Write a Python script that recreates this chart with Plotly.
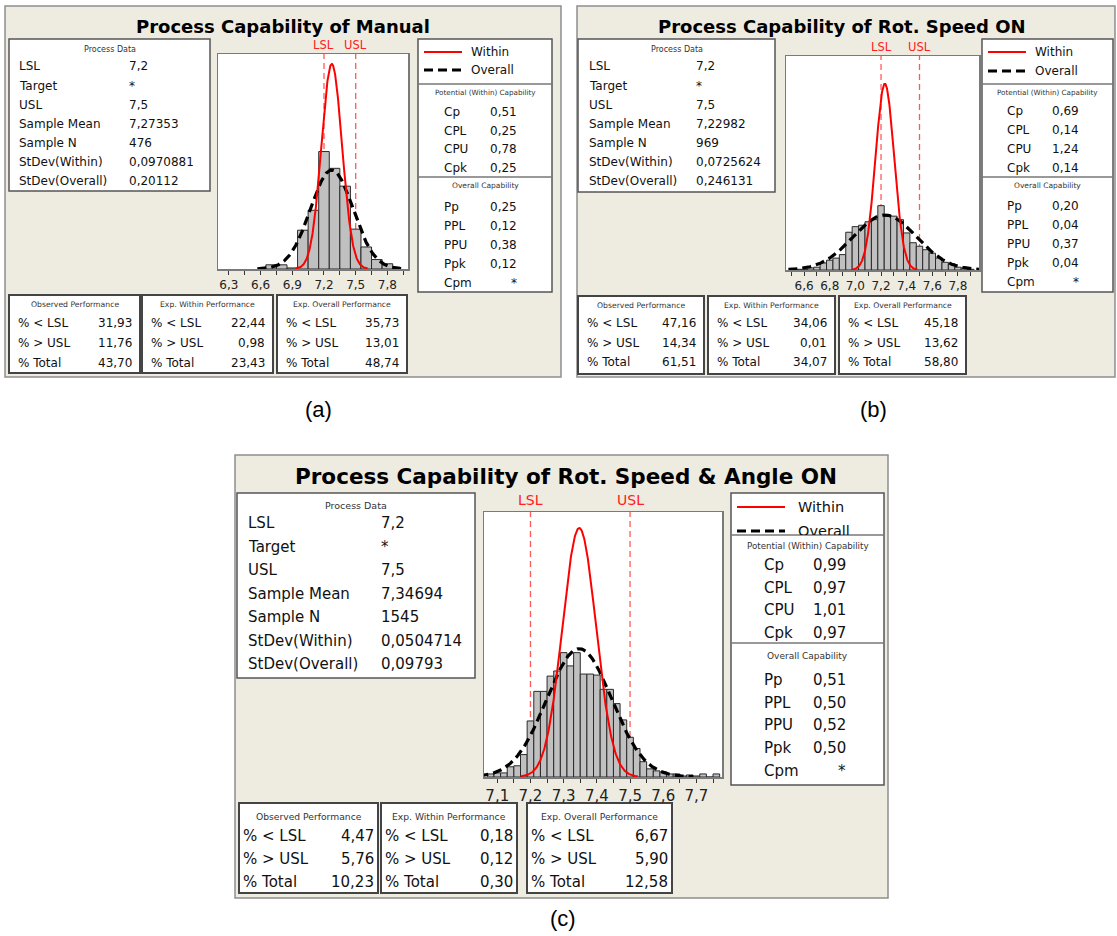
import numpy as np
import plotly.graph_objects as go

W, H = 1117, 936
FONT = "DejaVu Sans"

# ---------------- data ----------------
titles = ["Process Capability of Manual",
          "Process Capability of Rot. Speed ON",
          "Process Capability of Rot. Speed & Angle ON"]
captions = ["(a)", "(b)", "(c)"]

pd_labels = ["LSL", "Target", "USL", "Sample Mean", "Sample N", "StDev(Within)", "StDev(Overall)"]
pd_values_a = ["7,2", "*", "7,5", "7,27353", "476", "0,0970881", "0,20112"]
pd_values_b = ["7,2", "*", "7,5", "7,22982", "969", "0,0725624", "0,246131"]
pd_values_c = ["7,2", "*", "7,5", "7,34694", "1545", "0,0504714", "0,09793"]

within_labels = ["Cp", "CPL", "CPU", "Cpk"]
within_a = ["0,51", "0,25", "0,78", "0,25"]
within_b = ["0,69", "0,14", "1,24", "0,14"]
within_c = ["0,99", "0,97", "1,01", "0,97"]

overall_labels = ["Pp", "PPL", "PPU", "Ppk", "Cpm"]
overall_a = ["0,25", "0,12", "0,38", "0,12", "*"]
overall_b = ["0,20", "0,04", "0,37", "0,04", "*"]
overall_c = ["0,51", "0,50", "0,52", "0,50", "*"]

perf_titles = ["Observed Performance", "Exp. Within Performance", "Exp. Overall Performance"]
perf_labels = ["% < LSL", "% > USL", "% Total"]
obs_a, expw_a, expo_a = ["31,93", "11,76", "43,70"], ["22,44", "0,98", "23,43"], ["35,73", "13,01", "48,74"]
obs_b, expw_b, expo_b = ["47,16", "14,34", "61,51"], ["34,06", "0,01", "34,07"], ["45,18", "13,62", "58,80"]
obs_c, expw_c, expo_c = ["4,47", "5,76", "10,23"], ["0,18", "0,12", "0,30"], ["6,67", "5,90", "12,58"]

lsl, usl = 7.2, 7.5
mean_a, n_a, sdw_a, sdo_a = 7.27353, 476, 0.0970881, 0.20112
mean_b, n_b, sdw_b, sdo_b = 7.22982, 969, 0.0725624, 0.246131
mean_c, n_c, sdw_c, sdo_c = 7.34694, 1545, 0.0504714, 0.09793

bin_a = 0.1
centers_a = [6.7, 6.8, 6.9, 7.0, 7.1, 7.2, 7.3, 7.4, 7.5, 7.6, 7.7, 7.8]
counts_a = [4, 4, 1, 37, 56, 112, 96, 79, 38, 21, 9, 5]

bin_b = 0.05
centers_b = [6.55, 6.60, 6.65, 6.70, 6.75, 6.80, 6.85, 6.90, 6.95, 7.00, 7.05, 7.10, 7.15, 7.20,
             7.25, 7.30, 7.35, 7.40, 7.45, 7.50, 7.55, 7.60, 7.65, 7.70, 7.75, 7.80, 7.85, 7.90]
counts_b = [1, 1, 3, 4, 10, 14, 17, 22, 54, 62, 64, 69, 72, 92,
            79, 77, 72, 53, 39, 34, 29, 24, 17, 11, 9, 4, 3, 1]

bin_c = 0.02
centers_c = [7.08, 7.10, 7.12, 7.14, 7.16, 7.18, 7.20, 7.22, 7.24, 7.26, 7.28, 7.30, 7.32, 7.34,
             7.36, 7.38, 7.40, 7.42, 7.44, 7.46, 7.48, 7.50, 7.52, 7.54, 7.56, 7.58, 7.60, 7.62,
             7.64, 7.66, 7.68, 7.70, 7.72, 7.74, 7.76]
counts_c = [3, 4, 4, 10, 11, 22, 55, 84, 84, 99, 104, 122, 109, 122,
            101, 101, 100, 86, 86, 72, 56, 39, 28, 15, 8, 6, 5, 3,
            3, 1, 2, 1, 3, 0, 3]

tickvals_a = [6.3, 6.6, 6.9, 7.2, 7.5, 7.8]
ticktext_a = ["6,3", "6,6", "6,9", "7,2", "7,5", "7,8"]
tickvals_b = [6.6, 6.8, 7.0, 7.2, 7.4, 7.6, 7.8]
ticktext_b = ["6,6", "6,8", "7,0", "7,2", "7,4", "7,6", "7,8"]
tickvals_c = [7.1, 7.2, 7.3, 7.4, 7.5, 7.6, 7.7]
ticktext_c = ["7,1", "7,2", "7,3", "7,4", "7,5", "7,6", "7,7"]

# ---------------- layout (pixel positions) ----------------
panels = [
    dict(panel=(5, 6, 561, 377), title=(283, 26), tsize=18,
         pdbox=(9, 39, 210, 191), pdhdr=49, pdy0=66.5, pddy=19.1, pdlx=18, pdvx=128, fs=12, hfs=8,
         hist=(218, 54, 408, 269), xr=(6.197, 7.995), yr=(0, 205), minor=(6.3, 0.15), tfs=12,
         specy=45, leg=(418, 39, 552, 292), lw_y=52, lo_y=70, llx=(424, 462), ltx=470,
         sep1=84, potw=93, wy0=112, wdy=18.7, sep2=177, ovc=186, oy0=207, ody=19.0,
         lx=443, vx=518, perf=(295, 373), pboxes=[(9, 140), (142, 273), (277, 407)],
         phdr=305, prows=(323, 343, 363), pldx=8, pvdx=7, cap=(318, 409), lfs=12, sfs=11.5),
    dict(panel=(577, 6, 1115, 377), title=(842, 26), tsize=18,
         pdbox=(578, 39, 775, 192), pdhdr=49, pdy0=66.5, pddy=19.1, pdlx=588, pdvx=695, fs=12, hfs=8,
         hist=(786, 56, 979, 270), xr=(6.459, 7.964), yr=(0, 306), minor=(6.6, 0.1), tfs=12,
         specy=47, leg=(982, 39, 1113, 292), lw_y=52, lo_y=71, llx=(988, 1026), ltx=1034,
         sep1=84, potw=93, wy0=111, wdy=18.9, sep2=177, ovc=186, oy0=206, ody=19.0,
         lx=1006, vx=1080, perf=(296, 374), pboxes=[(578, 704), (708, 835), (839, 966)],
         phdr=306, prows=(323, 343, 362), pldx=8, pvdx=7, cap=(873, 409), lfs=12, sfs=11.5),
    dict(panel=(235, 455, 888, 898), title=(566, 477), tsize=21.5,
         pdbox=(237, 493, 475, 678), pdhdr=505, pdy0=523, pddy=23.5, pdlx=247, pdvx=380, fs=15, hfs=9.5,
         hist=(484, 512, 722, 777), xr=(7.060, 7.777), yr=(0, 260), minor=(7.1, 0.05), tfs=15,
         specy=500, leg=(731, 493, 884, 785), lw_y=507, lo_y=531, llx=(737, 785), ltx=797,
         sep1=535, potw=546, wy0=565, wdy=22.5, sep2=643, ovc=656, oy0=680, ody=22.7,
         lx=763, vx=847, perf=(803, 893), pboxes=[(239, 378), (381, 517), (527, 672)],
         phdr=816, prows=(836, 859, 882), pldx=3, pvdx=3, cap=(563, 918), lfs=14.5, sfs=14),
]

datasets = [
    dict(pdv=pd_values_a, wv=within_a, ov=overall_a, perf=[obs_a, expw_a, expo_a],
         mean=mean_a, n=n_a, sdw=sdw_a, sdo=sdo_a, bw=bin_a, cx=centers_a, cy=counts_a,
         tv=tickvals_a, tt=ticktext_a),
    dict(pdv=pd_values_b, wv=within_b, ov=overall_b, perf=[obs_b, expw_b, expo_b],
         mean=mean_b, n=n_b, sdw=sdw_b, sdo=sdo_b, bw=bin_b, cx=centers_b, cy=counts_b,
         tv=tickvals_b, tt=ticktext_b),
    dict(pdv=pd_values_c, wv=within_c, ov=overall_c, perf=[obs_c, expw_c, expo_c],
         mean=mean_c, n=n_c, sdw=sdw_c, sdo=sdo_c, bw=bin_c, cx=centers_c, cy=counts_c,
         tv=tickvals_c, tt=ticktext_c),
]

BEIGE = "#EEEBE1"
shapes, annotations = [], []


def px(x):
    return x / W


def py(y):
    return 1 - y / H


def rect(x0, y0, x1, y1, fill, lc, lw, layer="below"):
    shapes.append(dict(type="rect", xref="paper", yref="paper", x0=px(x0), x1=px(x1),
                       y0=py(y1), y1=py(y0), fillcolor=fill, line=dict(color=lc, width=lw),
                       layer=layer))


def hline(x0, x1, y, color, width, dash="solid", layer="below"):
    shapes.append(dict(type="line", xref="paper", yref="paper", x0=px(x0), x1=px(x1),
                       y0=py(y), y1=py(y), line=dict(color=color, width=width, dash=dash),
                       layer=layer))


def txt(x, y, s, size, anchor="left", color="#111111", family=FONT, bold=False, **kw):
    s = s.replace("<", "&lt;")
    if bold:
        s = "<b>" + s + "</b>"
    d = dict(x=px(x), y=py(y), xref="paper", yref="paper", text=s, showarrow=False,
             xanchor=anchor, yanchor="middle", font=dict(size=size, color=color, family=family),
             borderpad=0)
    d.update(kw)
    annotations.append(d)


fig = go.Figure()

for i, (c, d) in enumerate(zip(panels, datasets)):
    k = "" if i == 0 else str(i + 1)
    rect(*c["panel"], BEIGE, "#8E8E8E", 1.5)
    txt(c["title"][0], c["title"][1], titles[i], c["tsize"], anchor="center", bold=True, color="#000000")
    rect(*c["pdbox"], "white", "#555555", 1.5)
    bx0, by0, bx1, by1 = c["pdbox"]
    txt((bx0 + bx1) / 2, c["pdhdr"], "Process Data", c["hfs"], anchor="center", color="#333333")
    for j, (lab, val) in enumerate(zip(pd_labels, d["pdv"])):
        yy = c["pdy0"] + j * c["pddy"]
        txt(c["pdlx"], yy, lab, c["fs"])
        txt(c["pdvx"], yy, val, c["fs"])
    hx0, hy0, hx1, hy1 = c["hist"]
    rect(hx0, hy0, hx1, hy1, "white", "rgba(0,0,0,0)", 0)
    for val in (lsl, usl):
        shapes.append(dict(type="line", xref="x" + k, yref="y" + k + " domain", x0=val, x1=val,
                           y0=0, y1=1, line=dict(color="#FF5A5A", width=1.3, dash="6px,4px"),
                           layer="below"))
    for val, name in ((lsl, "LSL"), (usl, "USL")):
        annotations.append(dict(x=val, xref="x" + k, y=py(c["specy"]), yref="paper", text=name,
                                showarrow=False, xanchor="center", yanchor="middle",
                                font=dict(size=c["lfs"] - 0.5, color="#FF2020", family=FONT)))
    fig.add_trace(go.Bar(x=d["cx"], y=d["cy"], width=d["bw"], xaxis="x" + k, yaxis="y" + k,
                         marker=dict(color="#C0C0C0", line=dict(color="#2A2A2A", width=1)),
                         showlegend=False, hoverinfo="skip"))
    scale = d["n"] * d["bw"]
    for sd, col, wid, dash in ((d["sdo"], "#000000", 3.2, "9px,5px"), (d["sdw"], "#FF0000", 2, "solid")):
        xs = np.linspace(d["mean"] - 3.5 * sd, d["mean"] + 3.5 * sd, 300)
        ys = scale / (sd * np.sqrt(2 * np.pi)) * np.exp(-0.5 * ((xs - d["mean"]) / sd) ** 2)
        fig.add_trace(go.Scatter(x=xs, y=ys, mode="lines", xaxis="x" + k, yaxis="y" + k,
                                 line=dict(color=col, width=wid, dash=dash),
                                 showlegend=False, hoverinfo="skip"))
    ax = dict(domain=[px(hx0), px(hx1)], range=list(c["xr"]), showgrid=False, zeroline=False,
              showline=True, mirror=True, linecolor="#7A7A7A", linewidth=1.5,
              tickmode="array", tickvals=d["tv"], ticktext=d["tt"], ticks="outside",
              ticklen=4, tickcolor="#333333", tickwidth=1,
              tickfont=dict(size=c["tfs"], color="#222222", family=FONT),
              minor=dict(tick0=c["minor"][0], dtick=c["minor"][1], ticks="outside", ticklen=4,
                         tickcolor="#333333", showgrid=False),
              anchor="y" + k, fixedrange=True)
    ay = dict(domain=[py(hy1), py(hy0)], range=list(c["yr"]), showgrid=False, zeroline=False,
              showline=True, mirror=True, linecolor="#7A7A7A", linewidth=1.5,
              showticklabels=False, ticks="", anchor="x" + k, fixedrange=True)
    fig.update_layout(**{"xaxis" + k: ax, "yaxis" + k: ay})

    lx0, ly0, lx1, ly1 = c["leg"]
    rect(lx0, ly0, lx1, ly1, "white", "#555555", 1.5)
    hline(c["llx"][0], c["llx"][1], c["lw_y"], "#FF0000", 2)
    hline(c["llx"][0], c["llx"][1], c["lo_y"], "#000000", 3.2, dash="9px,5px")
    txt(c["ltx"], c["lw_y"], "Within", c["lfs"])
    if i == 2:
        txt(c["ltx"], c["lo_y"] - 9, "Overall", c["lfs"], yanchor="top", height=12, valign="top")
    else:
        txt(c["ltx"], c["lo_y"], "Overall", c["lfs"])
    hline(lx0, lx1, c["sep1"], "#777777", 1.5, layer="above")
    txt((lx0 + lx1) / 2, c["potw"], "Potential (Within) Capability", c["hfs"] - 0.8, anchor="center",
        color="#333333")
    for j, (lab, val) in enumerate(zip(within_labels, d["wv"])):
        yy = c["wy0"] + j * c["wdy"]
        txt(c["lx"], yy, lab, c["fs"])
        txt(c["vx"], yy, val, c["fs"], anchor="right")
    hline(lx0, lx1, c["sep2"], "#777777", 1.5)
    txt((lx0 + lx1) / 2, c["ovc"], "Overall Capability", c["hfs"] - 0.5, anchor="center", color="#333333")
    for j, (lab, val) in enumerate(zip(overall_labels, d["ov"])):
        yy = c["oy0"] + j * c["ody"]
        txt(c["lx"], yy, lab, c["fs"])
        txt(c["vx"], yy, val, c["fs"], anchor="right")

    p0, p1 = c["perf"]
    for (bx0, bx1), ptitle, vals in zip(c["pboxes"], perf_titles, d["perf"]):
        rect(bx0, p0, bx1, p1, "white", "#444444", 2)
        txt((bx0 + bx1) / 2, c["phdr"], ptitle, c["hfs"] - 0.3, anchor="center", color="#333333")
        for lab, val, yy in zip(perf_labels, vals, c["prows"]):
            txt(bx0 + c["pldx"], yy, lab, c["fs"])
            txt(bx1 - c["pvdx"], yy, val, c["fs"], anchor="right")

    txt(c["cap"][0], c["cap"][1], captions[i], 22, anchor="center", family="Liberation Sans",
        color="#000000")

fig.update_layout(width=W, height=H, margin=dict(l=0, r=0, t=0, b=0, pad=0),
                  paper_bgcolor="white", plot_bgcolor="rgba(0,0,0,0)",
                  shapes=shapes, annotations=annotations, bargap=0, showlegend=False)

fig.write_html("out.html", config={"displayModeBar": False, "staticPlot": True},
               post_script="document.body.style.margin='0';document.body.style.overflow='hidden';")
